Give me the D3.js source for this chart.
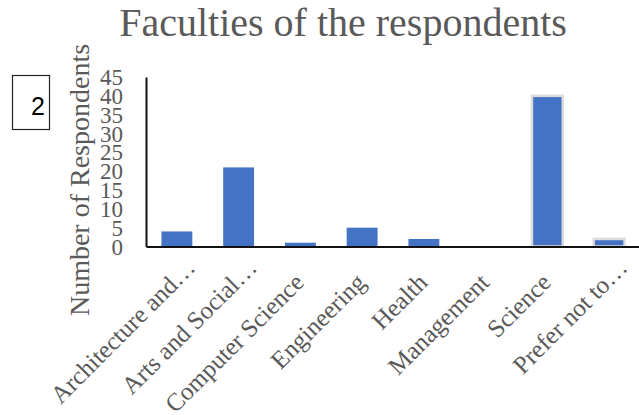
<!DOCTYPE html>
<html>
<head>
<meta charset="utf-8">
<script src="https://cdn.jsdelivr.net/npm/d3@7"></script>
<style>
  body { margin: 0; background: #fff; }
  svg { display: block; }
  .lbl { font-family: "Liberation Serif", serif; fill: #595959; }
</style>
</head>
<body>
<script>
var faculties = ["Architecture and…", "Arts and Social…", "Computer Science", "Engineering",
                 "Health", "Management", "Science", "Prefer not to…"];
var respondents = [4, 21, 1, 5, 2, 0, 40, 2];
var yTicks = [0, 5, 10, 15, 20, 25, 30, 35, 40, 45];
var highlighted = ["Science", "Prefer not to…"];

(function(){
  var width = 639, height = 415;

  var svg = d3.select("body").append("svg")
    .attr("width", width)
    .attr("height", height);

  // scales
  var x = d3.scaleBand()
    .domain(faculties)
    .range([146, 640])
    .paddingInner(0.5)
    .paddingOuter(0.25);

  var y = d3.scaleLinear()
    .domain([0, 45])
    .range([246.5, 77]);

  // title
  svg.append("text")
    .attr("class", "lbl")
    .attr("x", 343)
    .attr("y", 36)
    .attr("text-anchor", "middle")
    .style("font-size", "40px")
    .text("Faculties of the respondents");

  // y axis title
  svg.append("text")
    .attr("class", "lbl")
    .attr("transform", "translate(89,180) rotate(-90)")
    .attr("text-anchor", "middle")
    .style("font-size", "28px")
    .text("Number of Respondents");

  // bars
  svg.selectAll(".bar")
    .data(faculties)
    .enter()
    .append("rect")
    .attr("class", "bar")
    .attr("x", function(d){ return x(d); })
    .attr("width", x.bandwidth())
    .attr("y", function(d, i){ return y(respondents[i]); })
    .attr("height", function(d, i){ return y(0) - y(respondents[i]); })
    .attr("fill", "#4472c4")
    .attr("stroke", function(d){ return highlighted.indexOf(d) >= 0 ? "#dcdcdc" : "none"; })
    .attr("stroke-width", 2.5);

  // y axis
  var yAxis = svg.append("g")
    .attr("transform", "translate(146,0)")
    .call(d3.axisLeft(y).tickValues(yTicks).tickSize(0).tickPadding(23));
  yAxis.select(".domain").attr("stroke", "#111").attr("stroke-width", 2);
  yAxis.selectAll("text")
    .attr("class", "lbl")
    .attr("dy", "0.33em")
    .style("font-size", "23px");

  // x axis
  var xAxis = svg.append("g")
    .attr("transform", "translate(0," + y(0) + ")")
    .call(d3.axisBottom(x).tickSize(0).tickFormat(""));
  xAxis.select(".domain").attr("stroke", "#111").attr("stroke-width", 2);

  // category labels, rotated
  svg.selectAll(".xlbl")
    .data(faculties)
    .enter()
    .append("text")
    .attr("class", "lbl xlbl")
    .attr("text-anchor", "end")
    .style("font-size", "25px")
    .attr("transform", function(d){
      return "translate(" + (x(d) + x.bandwidth() / 2) + "," + y(0) + ") rotate(-45)";
    })
    .attr("x", function(d){ return d.slice(-1) == "…" ? -2 : -23; })
    .attr("y", 30)
    .text(function(d){ return d; });

  // "2" box
  svg.append("rect")
    .attr("x", 12.5).attr("y", 75.5)
    .attr("width", 37).attr("height", 54)
    .attr("fill", "none").attr("stroke", "#222").attr("stroke-width", 1.2);
  svg.append("text")
    .attr("x", 45).attr("y", 115)
    .attr("text-anchor", "end")
    .style("font-family", "'Liberation Sans', sans-serif")
    .style("font-size", "25px")
    .attr("fill", "#000")
    .text("2");
})();
</script>
</body>
</html>
